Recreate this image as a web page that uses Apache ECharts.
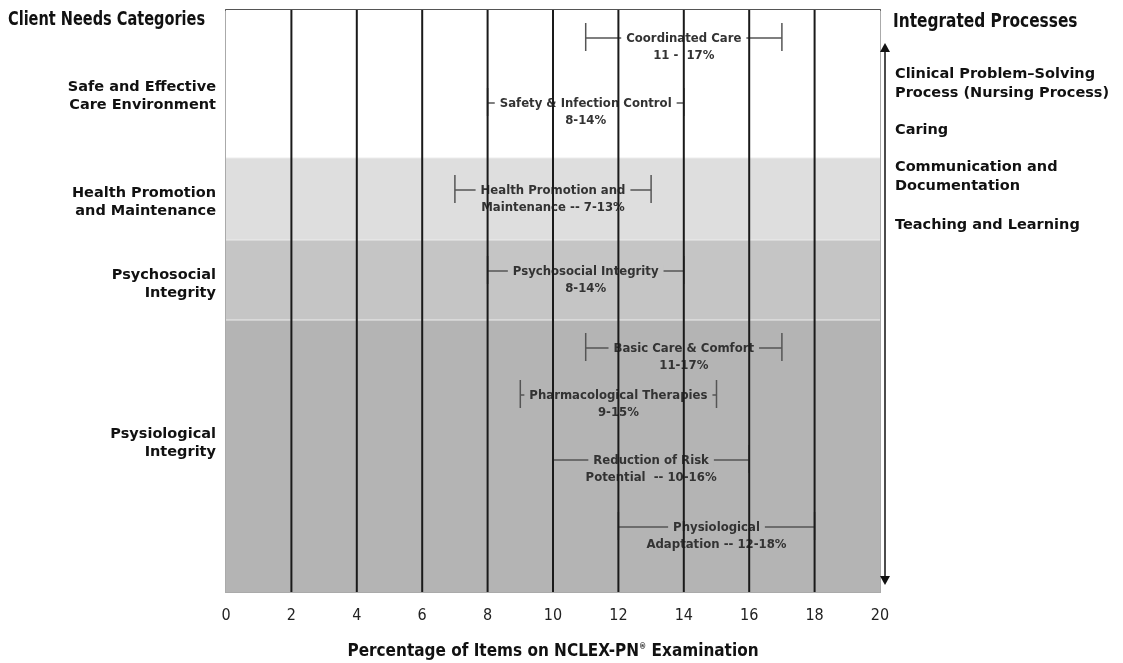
<!DOCTYPE html>
<html>
<head>
<meta charset="utf-8">
<script src="https://cdn.jsdelivr.net/npm/echarts@6/dist/echarts.min.js"></script>
<style>html,body{margin:0;padding:0;background:#fff;}#main{width:1123px;height:663px;}</style>
</head>
<body>
<div id="main"></div>
<script>
// ---------- DATA ----------
const categories = ['Safe and Effective\nCare Environment', 'Health Promotion\nand Maintenance', 'Psychosocial\nIntegrity', 'Psysiological\nIntegrity'];
const subcategoryNames = ['Coordinated Care', 'Safety & Infection Control', 'Health Promotion and', 'Psychosocial Integrity', 'Basic Care & Comfort', 'Pharmacological Therapies', 'Reduction of Risk', 'Physiological'];
const subcategoryRanges = ['11 -  17%', '8-14%', 'Maintenance -- 7-13%', '8-14%', '11-17%', '9-15%', 'Potential  -- 10-16%', 'Adaptation -- 12-18%'];
const lowValues = [11, 8, 7, 8, 11, 9, 10, 12];
const highValues = [17, 14, 13, 14, 17, 15, 16, 18];
const subcategoryGroup = [0, 0, 1, 2, 3, 3, 3, 3];
const processes = ['Clinical Problem\u2013Solving\nProcess (Nursing Process)', 'Caring', 'Communication and\nDocumentation', 'Teaching and Learning'];
const xTicks = [0, 2, 4, 6, 8, 10, 12, 14, 16, 18, 20];

// ---------- LAYOUT (pixel rows inside plot) ----------
const PLOT_H = 582;
const BAND_EDGES = [0, 148, 230, 310, 582];
const BAND_COLORS = ['#ffffff', '#dedede', '#c5c5c5', '#b4b4b4'];
const ROW_Y = [28, 93, 180, 261, 338, 385, 450, 517];
const CAT_LABEL_Y = [96, 202, 284, 443];
const PROC_LABEL_Y = [84, 130, 177, 225];

const bandData = categories.map((c, i) => [BAND_EDGES[i], BAND_EDGES[i + 1], i]);
const rangeData = subcategoryNames.map((s, i) => [lowValues[i], highValues[i], ROW_Y[i], subcategoryGroup[i]]);
const gridData = xTicks.filter(v => v > 0 && v < 20);

const chart = echarts.init(document.getElementById('main'));
const NARROW = '"Liberation Sans Narrow","DejaVu Sans Condensed","Roboto Condensed",sans-serif';
const PIX = '"DejaVu Sans",sans-serif';

const graphics = [];
graphics.push({type: 'text', x: 8, y: 11, scaleX: 0.85, style: {text: 'Client Needs Categories', font: 'bold 19px ' + NARROW, fill: '#111'}});
categories.forEach((c, i) => {
  graphics.push({type: 'text', x: 216, y: CAT_LABEL_Y[i], style: {text: c, font: 'bold 14.5px ' + PIX, fill: '#111', align: 'right', verticalAlign: 'middle', lineHeight: 18}});
});
graphics.push({type: 'text', x: 893, y: 13, scaleX: 0.9, style: {text: 'Integrated Processes', font: 'bold 19px ' + NARROW, fill: '#111'}});
processes.forEach((p, i) => {
  graphics.push({type: 'text', x: 895, y: PROC_LABEL_Y[i], style: {text: p, font: 'bold 14.5px ' + PIX, fill: '#111', align: 'left', verticalAlign: 'middle', lineHeight: 19}});
});
// double arrow
graphics.push({type: 'line', shape: {x1: 885, y1: 48, x2: 885, y2: 580}, style: {stroke: '#111', lineWidth: 1.5}});
graphics.push({type: 'polygon', shape: {points: [[885, 43], [880, 52], [890, 52]]}, style: {fill: '#111'}});
graphics.push({type: 'polygon', shape: {points: [[885, 585], [880, 576], [890, 576]]}, style: {fill: '#111'}});

const option = {
  backgroundColor: '#fff',
  animation: false,
  grid: {left: 226, right: 243, top: 10, bottom: 71, containLabel: false, outerBoundsMode: 'none',
    show: true, borderColor: '#aaa', borderWidth: 2, backgroundColor: 'transparent'},
  xAxis: {
    type: 'value', min: 0, max: 20, interval: 2,
    axisLine: {show: true, lineStyle: {color: '#555', width: 2}},
    axisTick: {show: false},
    splitLine: {show: false},
    axisLabel: {margin: 16, fontFamily: NARROW, fontSize: 16, color: '#222'},
    name: 'Percentage of Items on NCLEX-PN{sup|\u00AE} Examination',
    nameLocation: 'middle', nameGap: 51,
    nameTextStyle: {fontFamily: NARROW, fontSize: 17, fontWeight: 'bold', color: '#111',
      rich: {sup: {fontSize: 8, verticalAlign: 'top', padding: [0, 0, 10, 0], fontFamily: NARROW, fontWeight: 'bold'}}}
  },
  yAxis: {type: 'value', min: 0, max: PLOT_H, inverse: true, show: false, splitLine: {show: false}},
  graphic: graphics,
  series: [
    {
      type: 'custom', z: 1, data: bandData,
      renderItem: function (params, api) {
        const cs = params.coordSys;
        const y0 = api.coord([0, api.value(0)])[1];
        const y1 = api.coord([0, api.value(1)])[1];
        const idx = api.value(2);
        return {type: 'group', children: [
          {type: 'rect', shape: {x: cs.x, y: y0, width: cs.width, height: y1 - y0}, style: {fill: BAND_COLORS[idx]}},
          {type: 'line', shape: {x1: cs.x, y1: y0, x2: cs.x + cs.width, y2: y0}, style: {stroke: idx > 0 ? '#ececec' : 'transparent', lineWidth: 1}}
        ]};
      }
    },
    {
      type: 'custom', z: 2, data: rangeData,
      renderItem: function (params, api) {
        const lo = api.coord([api.value(0), api.value(2)]);
        const hi = api.coord([api.value(1), api.value(2)]);
        const mid = api.coord([(api.value(0) + api.value(1)) / 2, api.value(2)]);
        const g = api.value(3);
        const y = lo[1];
        const st = {stroke: '#555', lineWidth: 1.5};
        const i = params.dataIndex;
        return {type: 'group', children: [
          {type: 'line', shape: {x1: lo[0], y1: y, x2: hi[0], y2: y}, style: st},
          {type: 'line', shape: {x1: lo[0], y1: y - 15, x2: lo[0], y2: y + 13}, style: st},
          {type: 'line', shape: {x1: hi[0], y1: y - 15, x2: hi[0], y2: y + 13}, style: st},
          {type: 'text', x: mid[0], y: y - 8, style: {
            text: '{a|' + subcategoryNames[i] + '}\n{b|' + subcategoryRanges[i] + '}',
            font: 'bold 13px ' + NARROW, fill: '#333',
            align: 'center', verticalAlign: 'top',
            rich: {
              a: {font: 'bold 13px ' + NARROW, fill: '#333', lineHeight: 17, backgroundColor: BAND_COLORS[g], padding: [0, 5, 0, 5]},
              b: {font: 'bold 13px ' + NARROW, fill: '#333', lineHeight: 17}
            }
          }}
        ]};
      }
    },
    {
      type: 'custom', z: 3, data: gridData,
      renderItem: function (params, api) {
        const cs = params.coordSys;
        const x = api.coord([api.value(0), 0])[0];
        return {type: 'line', shape: {x1: x, y1: cs.y, x2: x, y2: cs.y + cs.height}, style: {stroke: '#1a1a1a', lineWidth: 2}};
      }
    }
  ]
};
chart.setOption(option);
</script>
</body>
</html>
